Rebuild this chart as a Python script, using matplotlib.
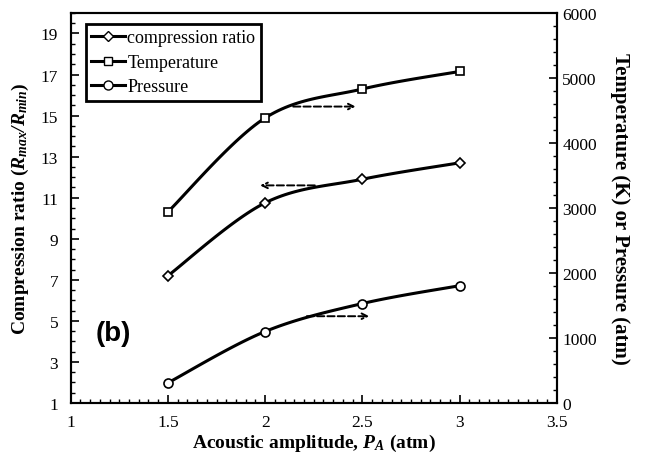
import matplotlib.pyplot as plt
import numpy as np
from matplotlib.ticker import MultipleLocator, FormatStrFormatter

amplitude = [1.5, 2.0, 2.5, 3.0]
compression = [7.2, 10.75, 11.9, 12.7]
temperature = [2940, 4385, 4830, 5100]
pressure = [310, 1100, 1530, 1805]

serif = 'Liberation Serif'
plt.rcParams['mathtext.fontset'] = 'custom'
plt.rcParams['mathtext.rm'] = 'Liberation Serif'
plt.rcParams['mathtext.it'] = 'Liberation Serif:italic'
plt.rcParams['mathtext.bf'] = 'Liberation Serif:bold'
plt.rcParams['mathtext.bfit'] = 'Liberation Serif:italic:bold'


def smooth(x, y, n=30, t=1/6):
    # excel-like smoothed line: bezier between points with catmull-rom handles
    x = np.asarray(x, float)
    y = np.asarray(y, float)
    px = np.concatenate([[x[0]], x, [x[-1]]])
    py = np.concatenate([[y[0]], y, [y[-1]]])
    xs, ys = [], []
    s = np.linspace(0, 1, n)
    for i in range(1, len(px) - 2):
        p0 = np.array([px[i], py[i]])
        p3 = np.array([px[i + 1], py[i + 1]])
        p1 = p0 + (np.array([px[i + 1], py[i + 1]]) - np.array([px[i - 1], py[i - 1]])) * t
        p2 = p3 - (np.array([px[i + 2], py[i + 2]]) - np.array([px[i], py[i]])) * t
        b = ((1 - s) ** 3)[:, None] * p0 + (3 * (1 - s) ** 2 * s)[:, None] * p1 \
            + (3 * (1 - s) * s ** 2)[:, None] * p2 + (s ** 3)[:, None] * p3
        xs.extend(b[:, 0])
        ys.extend(b[:, 1])
    return xs, ys


fig = plt.figure(figsize=(6.52, 4.60), dpi=100)
ax = fig.add_axes([0.1084, 0.1217, 0.7456, 0.848])
ax2 = ax.twinx()

lw = 2.2
mk = dict(markerfacecolor='white', markeredgecolor='black', markeredgewidth=1.2, linestyle='none')

sx, sy = smooth(amplitude, compression)
ax.plot(sx, sy, color='black', lw=lw, zorder=2)
ax.plot(amplitude, compression, marker='D', markersize=5, zorder=3, **mk)

sx, sy = smooth(amplitude, temperature)
ax2.plot(sx, sy, color='black', lw=lw, zorder=2)
ax2.plot(amplitude, temperature, marker='s', markersize=6, zorder=3, **mk)

sx, sy = smooth(amplitude, pressure)
ax2.plot(sx, sy, color='black', lw=lw, zorder=2)
ax2.plot(amplitude, pressure, marker='o', markersize=6.5, zorder=3, **mk)

# legend proxies
h1, = ax.plot([], [], color='black', lw=lw, marker='D', markersize=5,
              markerfacecolor='white', markeredgecolor='black')
h2, = ax.plot([], [], color='black', lw=lw, marker='s', markersize=6,
              markerfacecolor='white', markeredgecolor='black')
h3, = ax.plot([], [], color='black', lw=lw, marker='o', markersize=6.5,
              markerfacecolor='white', markeredgecolor='black')
leg = ax.legend([h1, h2, h3], ['compression ratio', 'Temperature', 'Pressure'],
                loc='upper left', bbox_to_anchor=(0.031, 0.972), fancybox=False,
                edgecolor='black', framealpha=1, handlelength=1.9, handletextpad=0.1,
                borderpad=0.3, labelspacing=0.42, borderaxespad=0,
                prop={'family': serif, 'size': 13})
leg.get_frame().set_linewidth(2)

# arrows
arw = dict(arrowstyle='->', linestyle='--', color='black', lw=1.4)
ax2.annotate('', xy=(2.48, 4560), xytext=(2.13, 4560), arrowprops=arw)
ax.annotate('', xy=(1.96, 11.6), xytext=(2.27, 11.6), arrowprops=arw)
ax2.annotate('', xy=(2.55, 1335), xytext=(2.2, 1335), arrowprops=arw)

ax.text(0.087, 0.18, '(b)', transform=ax.transAxes, fontsize=20, fontweight='bold',
        family='Liberation Sans', ha='center', va='center')

ax.set_xlim(1, 3.5)
ax.set_ylim(1, 20)
ax2.set_ylim(0, 6000)
ax.xaxis.set_major_locator(MultipleLocator(0.5))
ax.xaxis.set_minor_locator(MultipleLocator(0.05))
ax.xaxis.set_major_formatter(FormatStrFormatter('%g'))
ax.yaxis.set_minor_locator(MultipleLocator(0.5))
ax.set_yticks(np.arange(1, 20, 2))
ax2.yaxis.set_major_locator(MultipleLocator(1000))
ax2.yaxis.set_minor_locator(MultipleLocator(200))

for a in (ax, ax2):
    a.tick_params(which='major', direction='in', length=6, width=1.2, labelsize=12.5)
    a.tick_params(which='minor', direction='in', length=3, width=1)
    for lab in a.get_xticklabels() + a.get_yticklabels():
        lab.set_family(serif)
    for sp in a.spines.values():
        sp.set_linewidth(1.5)
ax.tick_params(axis='x', pad=8)
ax.tick_params(axis='y', pad=9)
ax2.tick_params(axis='y', pad=4)

ax.set_xlabel('Acoustic amplitude, $\\mathbfit{P_A}$ (atm)', family=serif,
              fontsize=14, fontweight='bold', labelpad=1)
ax.set_ylabel('Compression ratio ($\\mathbfit{R_{max}/R_{min}}$)', family=serif,
              fontsize=14, fontweight='bold', labelpad=7)
ax2.set_ylabel('Temperature (K) or Pressure (atm)', family=serif,
               fontsize=15, fontweight='bold', rotation=270, labelpad=24)

fig.savefig('out.png', dpi=100)
